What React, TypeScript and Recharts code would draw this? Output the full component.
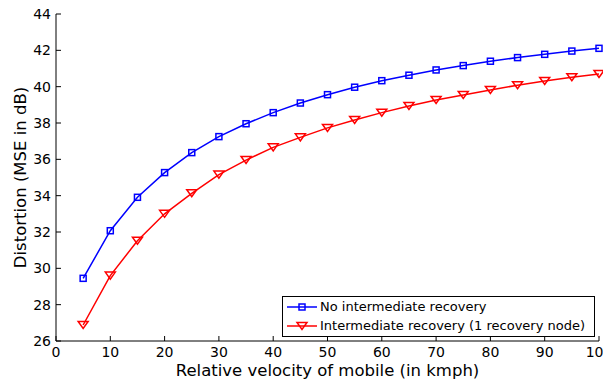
import { LineChart, Line, XAxis, YAxis, Label } from 'recharts';

const velocity = [5, 10, 15, 20, 25, 30, 35, 40, 45, 50, 55, 60, 65, 70, 75, 80, 85, 90, 95, 100];
const noRecovery = [
  29.45, 32.07, 33.91, 35.27, 36.37, 37.25, 37.96, 38.57, 39.1, 39.56,
  39.97, 40.33, 40.63, 40.92, 41.16, 41.4, 41.6, 41.78, 41.96, 42.11,
];
const withRecovery = [
  26.88, 29.6, 31.52, 33.0, 34.13, 35.16, 35.96, 36.66, 37.21, 37.73,
  38.17, 38.57, 38.94, 39.27, 39.54, 39.82, 40.08, 40.31, 40.52, 40.7,
];
const xTicks = [0, 10, 20, 30, 40, 50, 60, 70, 80, 90, 100];
const yTicks = [26, 28, 30, 32, 34, 36, 38, 40, 42, 44];

const data = velocity.map((v, i) => ({ v, blue: noRecovery[i], red: withRecovery[i] }));

const FONT = 'DejaVu Sans';
const BLUE = '#0000ff';
const RED = '#ff0000';

const SquareDot = (props: any) => {
  const { cx, cy, index } = props;
  if (cx == null || cy == null) return <g key={index} />;
  return (
    <rect key={index} x={cx - 3} y={cy - 3} width={6} height={6} fill="none" stroke={BLUE} strokeWidth={1.5} />
  );
};

const TriangleDot = (props: any) => {
  const { cx, cy, index } = props;
  if (cx == null || cy == null) return <g key={index} />;
  return (
    <polygon
      key={index}
      points={`${cx - 5},${cy - 3.5} ${cx + 5},${cy - 3.5} ${cx},${cy + 3.5}`}
      fill="none"
      stroke={RED}
      strokeWidth={1.5}
    />
  );
};

const LegendBox = () => (
  <div
    style={{
      position: 'absolute',
      left: 274,
      top: 288,
      width: 303,
      border: '1px solid #000',
      background: '#fff',
      fontFamily: FONT,
      fontSize: 13,
      padding: '1px 4px',
      lineHeight: '18.5px',
      color: '#000',
    }}
  >
    <div style={{ display: 'flex', alignItems: 'center' }}>
      <svg width={30} height={10} style={{ marginRight: 3 }}>
        <line x1={0} y1={5} x2={30} y2={5} stroke={BLUE} strokeWidth={1.5} />
        <rect x={12} y={2} width={6} height={6} fill="none" stroke={BLUE} strokeWidth={1.5} />
      </svg>
      No intermediate recovery
    </div>
    <div style={{ display: 'flex', alignItems: 'center' }}>
      <svg width={30} height={10} style={{ marginRight: 3 }}>
        <line x1={0} y1={5} x2={30} y2={5} stroke={RED} strokeWidth={1.5} />
        <polygon points="10,1.5 20,1.5 15,8.5" fill="none" stroke={RED} strokeWidth={1.5} />
      </svg>
      Intermediate recovery (1 recovery node)
    </div>
  </div>
);

export default function App() {
  const tickStyle = { fontFamily: FONT, fontSize: 14, fill: '#000' };
  return (
    <div style={{ position: 'relative', width: 603, height: 375 }}>
      <LineChart
        width={603}
        height={375}
        data={data}
        margin={{ top: 6, right: 12, bottom: 0, left: 0 }}
        style={{ overflow: 'visible' }}
      >
        <XAxis
          dataKey="v"
          type="number"
          domain={[0, 100]}
          ticks={xTicks}
          height={42}
          tickSize={-5}
          tickMargin={11}
          tick={tickStyle}
          stroke="#000"
          interval={0}
        >
          <Label
            value="Relative velocity of mobile (in kmph)"
            position="insideBottom"
            offset={7}
            style={{ fontFamily: FONT, fontSize: 16.5, fill: '#000' }}
          />
        </XAxis>
        <XAxis
          xAxisId="top"
          dataKey="v"
          type="number"
          domain={[0, 100]}
          ticks={xTicks}
          orientation="top"
          height={0}
          tickSize={-5}
          tick={false}
          stroke="#000"
        />
        <YAxis
          domain={[26, 44]}
          ticks={yTicks}
          width={48}
          tickSize={-5}
          tickMargin={10}
          tick={tickStyle}
          stroke="#000"
          interval={0}
        >
          <Label
            value="Distortion (MSE in dB)"
            angle={-90}
            position="insideLeft"
            offset={12}
            style={{ fontFamily: FONT, fontSize: 16.5, fill: '#000', textAnchor: 'middle' }}
          />
        </YAxis>
        <YAxis
          yAxisId="right"
          orientation="right"
          domain={[26, 44]}
          ticks={yTicks}
          width={0}
          tickSize={-5}
          tick={false}
          stroke="#000"
        />
        <Line
          type="linear"
          dataKey="blue"
          stroke={BLUE}
          strokeWidth={1.5}
          dot={SquareDot}
          isAnimationActive={false}
        />
        <Line
          type="linear"
          dataKey="red"
          stroke={RED}
          strokeWidth={1.5}
          dot={TriangleDot}
          isAnimationActive={false}
        />
      </LineChart>
      <LegendBox />
    </div>
  );
}
